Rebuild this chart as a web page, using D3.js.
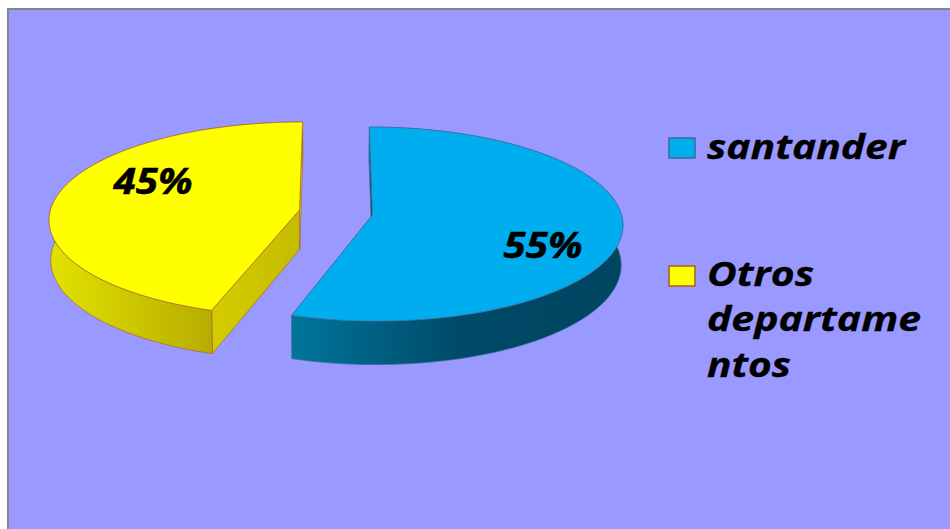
<!DOCTYPE html>
<html><head><meta charset="utf-8">
<script src="https://cdn.jsdelivr.net/npm/d3@7"></script>
<style>html,body{margin:0;padding:0;background:#fff}svg{display:block}</style>
</head><body><svg id="c" width="950" height="529"></svg>
<script>
const categories = ["santander", "Otros departamentos"];
const values = [55, 45];
const percentLabels = ["55%", "45%"];
const legendLines = [["santander"], ["Otros", "departame", "ntos"]];

const W = 950, H = 529;
const fills = ["#00aeef", "#ffff00"];
const strokes = ["#3f6d9e", "#a8672c"];
const wallStops = [
  [["0", "#00759c"], ["0.5", "#004a68"], ["1", "#004560"]],
  [["0", "#e2e200"], ["1", "#b6ac00"]]
];
const cutStops = [
  [["0", "#00789f"], ["1", "#004a68"]],
  [["0", "#d4cc00"], ["1", "#c4bc00"]]
];
const wallRange = [[293, 623], [50, 214]];
const cutRange = [[293, 372], [212, 300]];
const startFaceFill = ["#004560", "url(#cut1)"];
const endFaceFill = ["url(#cut0)", "#e4cc00"];
const sliceOffset = [[37, 215], [-36, 210]];
const labelAnchor = [[543, 258], [153, 194]];
const labelWidth = [79, 79];
const vanishX = 335.5, rx = 249, ry = 96.2, persp = 0.0928, depth = 39.5, bottomShrink = 0.994;

const svg = d3.select("#c");
svg.append("rect").attr("x", 8).attr("y", 9).attr("width", W).attr("height", H)
  .attr("fill", "#9999ff").attr("stroke", "#868686").attr("stroke-width", 2);

const defs = svg.append("defs");
function grad(id, stops, range) {
  const g = defs.append("linearGradient").attr("id", id)
    .attr("gradientUnits", "userSpaceOnUse")
    .attr("x1", range[0]).attr("x2", range[1]).attr("y1", 0).attr("y2", 0);
  stops.forEach(s => g.append("stop").attr("offset", s[0]).attr("stop-color", s[1]));
}

const pie = d3.pie().sort(null).startAngle(0).endAngle(2 * Math.PI);
const arcs = pie(values);

// perspective projection of a point on the unit disc of a slice
function project(i, r, angle, lower) {
  const ux = r * Math.sin(angle), uy = -r * Math.cos(angle);
  const w = 1 - persp * uy;
  const k = lower ? bottomShrink : 1;
  const x = vanishX + k * (sliceOffset[i][0] + rx * ux) / w;
  const y = sliceOffset[i][1] + ry * uy / w + (lower ? depth / w : 0);
  return [x, y];
}
const line = d3.line();
function rimAngles(a) {
  const n = 90;
  return d3.range(n + 1).map(j => a.startAngle + (a.endAngle - a.startAngle) * j / n);
}

const g = svg.append("g");
arcs.forEach((a, i) => {
  grad("wall" + i, wallStops[i], wallRange[i]);
  grad("cut" + i, cutStops[i], cutRange[i]);
  const rim = rimAngles(a);
  const top = rim.map(t => project(i, 1, t, false));
  const bot = rim.map(t => project(i, 1, t, true));
  const apexT = project(i, 0, 0, false), apexB = project(i, 0, 0, true);
  const sw = 0.7;
  // radial cut faces
  g.append("path").attr("d", line([apexT, top[0], bot[0], apexB]) + "Z")
    .attr("fill", startFaceFill[i]).attr("stroke", strokes[i]).attr("stroke-width", sw);
  g.append("path").attr("d", line([apexT, top[top.length - 1], bot[bot.length - 1], apexB]) + "Z")
    .attr("fill", endFaceFill[i]).attr("stroke", strokes[i]).attr("stroke-width", sw);
  // outer wall
  g.append("path").attr("d", line(top.concat(bot.slice().reverse())) + "Z")
    .attr("fill", `url(#wall${i})`).attr("stroke", strokes[i]).attr("stroke-width", sw);
  // top face
  g.append("path").attr("d", line([apexT].concat(top)) + "Z")
    .attr("fill", fills[i]).attr("stroke", strokes[i]).attr("stroke-width", sw);
  // percentage label
  svg.append("text").attr("x", labelAnchor[i][0]).attr("y", labelAnchor[i][1])
    .attr("text-anchor", "middle").attr("font-family", "'Open Sans'")
    .attr("font-weight", 700).attr("font-style", "italic").attr("font-size", 35)
    .attr("textLength", labelWidth[i]).attr("lengthAdjust", "spacingAndGlyphs")
    .attr("stroke", "#000").attr("stroke-width", 0.5)
    .attr("fill", "#000").text(percentLabels[i]);
});

// legend
const legendFont = 34;
const swatchY = [138, 266], lineY = [[159], [286, 331, 377]];
const lineWidth = [[198], [107, 214, 84]];
categories.forEach((c, i) => {
  svg.append("rect").attr("x", 669).attr("y", swatchY[i]).attr("width", 26).attr("height", 20)
    .attr("fill", fills[i]).attr("stroke", strokes[i]).attr("stroke-width", 1.6);
  legendLines[i].forEach((t, j) => {
    svg.append("text").attr("x", 707).attr("y", lineY[i][j])
      .attr("font-family", "'Open Sans'").attr("font-weight", 700).attr("font-style", "italic")
      .attr("font-size", legendFont).attr("textLength", lineWidth[i][j]).attr("lengthAdjust", "spacingAndGlyphs")
      .attr("stroke", "#000").attr("stroke-width", 0.3)
      .attr("fill", "#000").text(t);
  });
});
</script></body></html>
